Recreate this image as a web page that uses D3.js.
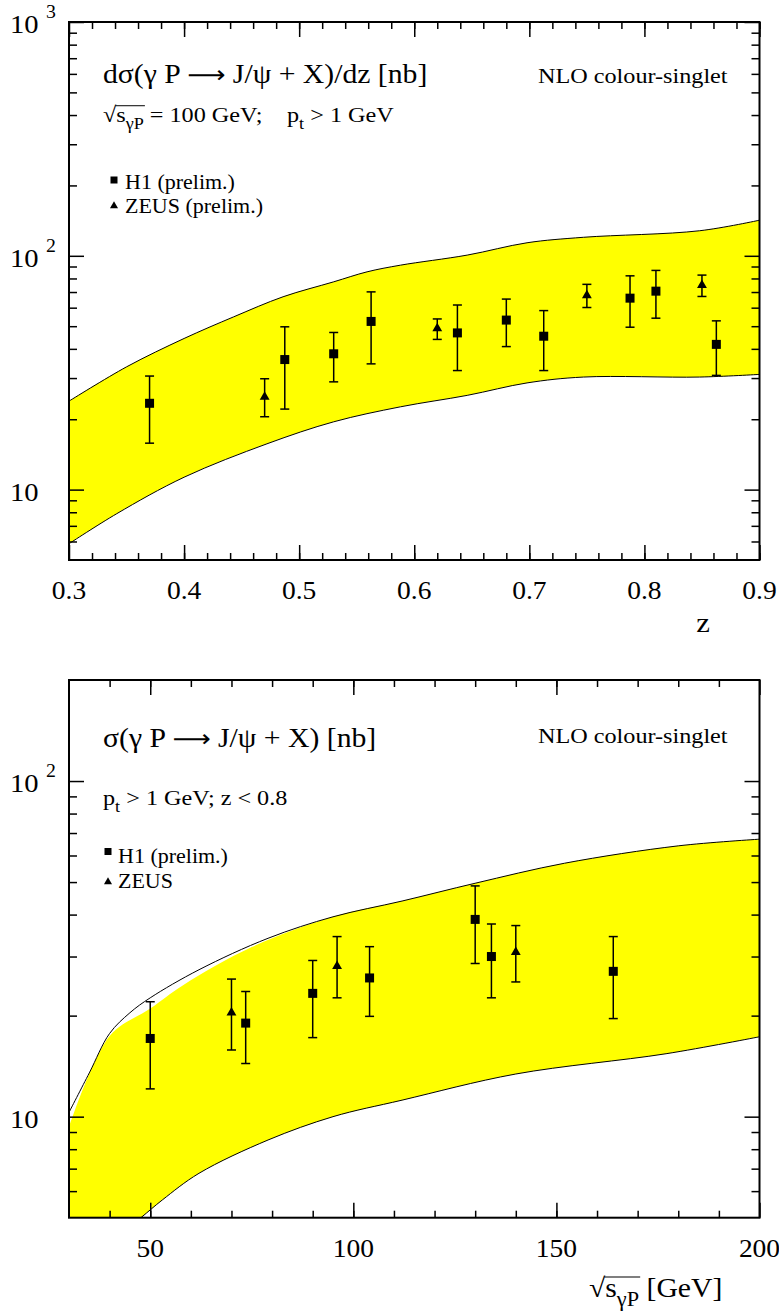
<!DOCTYPE html>
<html>
<head>
<meta charset="utf-8">
<script src="https://cdn.jsdelivr.net/npm/d3@7"></script>
<style>
  body { margin: 0; background: #fff; }
  svg text { font-family: "Liberation Serif", "Times New Roman", serif; fill: #000; white-space: pre; }
</style>
</head>
<body>
<div id="wrapper"></div>
<script>
// ---- top panel: dsigma/dz versus z ----
const zTicks = [0.3, 0.4, 0.5, 0.6, 0.7, 0.8, 0.9]
const dzYLabels = [10, 100, 1000]

// NLO colour-singlet band [z, nb]
const dzBandUpper = [[0.30, 23.9], [0.35, 33.5], [0.40, 44.3], [0.443, 54.8], [0.486, 66.8], [0.53, 77.4],
  [0.559, 85.4], [0.588, 91.2], [0.646, 100.7], [0.698, 113.7], [0.747, 120], [0.848, 128], [0.90, 142]]
const dzBandLower = [[0.30, 5.87], [0.3415, 7.89], [0.40, 11.3], [0.472, 15.7], [0.53, 19.5], [0.588, 22.6],
  [0.646, 25.3], [0.698, 28.6], [0.747, 30.3], [0.848, 30.3], [0.90, 31.1]]

const h1Z = [0.37, 0.4875, 0.53, 0.5625, 0.6375, 0.68, 0.7125, 0.7875, 0.81, 0.8625]
const h1Dz = [23.4, 36.0, 38.1, 52.4, 46.8, 53.1, 45.3, 65.9, 70.6, 41.8]
const h1DzHi = [30.6, 49.7, 47.0, 70.1, 61.6, 65.3, 58.3, 82.1, 86.6, 52.7]
const h1DzLo = [15.8, 22.1, 28.9, 34.5, 32.3, 40.9, 32.3, 49.5, 54.1, 30.8]

const zeusZ = [0.47, 0.62, 0.75, 0.85]
const zeusDz = [24.9, 48.9, 67.7, 74.9]
const zeusDzHi = [29.8, 53.7, 75.5, 82.7]
const zeusDzLo = [20.5, 43.9, 60.1, 67.0]

// ---- bottom panel: sigma versus sqrt(s) ----
const wTicks = [50, 100, 150, 200]
const sigYLabels = [10, 100]

const sigBandUpper = [[30, 10.3], [35, 13.5], [40, 17.7], [45, 20.4], [50, 22.6], [62, 27.4], [79, 34.0],
  [95, 39.4], [112, 43.9], [130, 49.6], [152, 56.9], [180, 64.1], [200, 67.1]]
const sigBandUpperFill = [[30, 9.3], [40, 17.4], [50, 21.0], [58, 24.6], [75, 32.0], [95, 39.4],
  [112, 43.9], [130, 49.6], [152, 56.9], [180, 64.1], [200, 67.1]]
const sigBandLower = [[30, 3.4], [40, 4.2], [47.7, 5.0], [53, 5.65], [62, 6.78], [79, 8.52], [95, 10.0],
  [112, 11.2], [140, 13.4], [177, 15.4], [200, 17.3]]

const h1W = [50, 73.5, 90, 104, 130, 134, 164]
const h1Sig = [17.1, 19.0, 23.3, 25.9, 38.7, 30.0, 27.1]
const h1SigHi = [22.0, 23.6, 29.2, 32.1, 48.7, 37.5, 34.4]
const h1SigLo = [12.1, 14.4, 17.2, 19.9, 28.6, 22.6, 19.6]

const zeusW = [70, 96, 140]
const zeusSig = [20.4, 28.1, 30.9]
const zeusSigHi = [25.7, 34.4, 37.1]
const zeusSigLo = [15.8, 22.6, 25.2]

// the original lettering is a bit wider than Liberation Serif
const stretch = 1.1

const svg = d3.select("#wrapper")
  .append("svg")
    .attr("width", 779)
    .attr("height", 1316)

const zip = (xs, v, hi, lo) => xs.map((x, i) => ({x, v: v[i], hi: hi[i], lo: lo[i]}))

function minorLog(domain) {
  const out = []
  for (let e = -1; e < 4; e++) {
    for (let m = 2; m < 10; m++) {
      const v = m * Math.pow(10, e)
      if (v > domain[0] && v < domain[1]) out.push(v)
    }
  }
  return out
}

// text with sub scripts, parts = [[text, "sub"|"arrow"|null], ...]
function rich(g, x, y, size, parts, anchor) {
  const t = g.append("g")
    .attr("transform", `translate(${x},${y}) scale(${stretch},1)`)
    .append("text")
      .attr("text-anchor", anchor || "start")
      .style("font-size", size + "px")
  let shift = 0
  parts.forEach(([s, kind]) => {
    const target = kind == "sub" ? size * 0.33 : 0
    const ts = t.append("tspan")
      .attr("dy", target - shift)
      .text(s)
    if (kind == "sub") ts.style("font-size", size * 0.75 + "px")
    if (kind == "arrow") ts.style("font-family", "'DejaVu Sans'").style("font-size", size * 0.9 + "px")
    shift = target
  })
  return t
}

// sqrt(s_gammaP) with a bar over it
function sqrtS(g, x, y, size, after) {
  const t = rich(g, x, y, size, [["√s", null], ["γP", "sub"], [after, null]])
  const n = t.node()
  const x1 = n.getEndPositionOfChar(0).x
  const x2 = n.getEndPositionOfChar(3).x
  d3.select(n.parentNode).append("line")
    .attr("x1", x1 - 0.8)
    .attr("x2", x2 + 1)
    .attr("y1", -size * 0.74)
    .attr("y2", -size * 0.74)
    .attr("stroke", "#000")
    .attr("stroke-width", 1)
  return t
}

function drawPanel(p) {
  const x = d3.scaleLinear().domain(p.xDomain).range([p.left, p.right])
  const y = d3.scaleLog().domain(p.yDomain).range([p.bottom, p.top])
  const g = svg.append("g")

  g.append("clipPath")
    .attr("id", p.id)
    .append("rect")
      .attr("x", p.left)
      .attr("y", p.top)
      .attr("width", p.right - p.left)
      .attr("height", p.bottom - p.top)

  const plot = g.append("g").attr("clip-path", `url(#${p.id})`)
  const line = d3.line()
    .x(d => x(d[0]))
    .y(d => y(d[1]))
    .curve(d3.curveCatmullRom.alpha(0.5))

  // band
  plot.append("path")
    .attr("d", line(p.fillUpper) + line(p.lower.slice().reverse()).replace(/^M/, "L") + "Z")
    .attr("fill", "#ffff00")
  ;[p.upper, p.lower].forEach(c => {
    plot.append("path")
      .attr("d", line(c))
      .attr("fill", "none")
      .attr("stroke", "#000")
      .attr("stroke-width", 1)
  })

  // ticks on all four sides
  const ticks = (axis, transform, values, size) => {
    g.append("g")
      .attr("transform", transform)
      .call(axis.tickValues(values).tickSize(size).tickFormat(""))
      .call(s => s.select(".domain").remove())
      .call(s => s.selectAll("line").attr("stroke-width", 1.5))
  }
  ticks(d3.axisBottom(x), `translate(0,${p.bottom})`, p.xMajor, -15)
  ticks(d3.axisBottom(x), `translate(0,${p.bottom})`, p.xMinor, -7)
  ticks(d3.axisTop(x), `translate(0,${p.top})`, p.xMajor, -15)
  ticks(d3.axisTop(x), `translate(0,${p.top})`, p.xMinor, -7)
  const yMajor = p.yLabels
  const yMinor = minorLog(p.yDomain)
  ticks(d3.axisLeft(y), `translate(${p.left},0)`, yMajor, -15)
  ticks(d3.axisLeft(y), `translate(${p.left},0)`, yMinor, -8)
  ticks(d3.axisRight(y), `translate(${p.right},0)`, yMajor, -15)
  ticks(d3.axisRight(y), `translate(${p.right},0)`, yMinor, -8)

  g.append("rect")
    .attr("x", p.left)
    .attr("y", p.top)
    .attr("width", p.right - p.left)
    .attr("height", p.bottom - p.top)
    .attr("fill", "none")
    .attr("stroke", "#000")
    .attr("stroke-width", 2)

  // tick labels
  p.xMajor.forEach(v => {
    rich(g, x(v), p.bottom + 39, 25, [[p.xFormat(v), null]], "middle")
  })

  p.yLabels.forEach(v => {
    const e = Math.round(Math.log10(v))
    rich(g, 10, y(v) + 11, 26, [["10", null]])
    if (e > 1) rich(g, 46, y(v) - 4, 18, [[String(e), null]])
  })

  // data points
  const drawPoints = (data, marker) => {
    const pts = g.append("g")
    data.forEach(d => {
      const cx = x(d.x)
      pts.append("line")
        .attr("x1", cx).attr("x2", cx)
        .attr("y1", y(d.hi)).attr("y2", y(d.lo))
        .attr("stroke", "#000").attr("stroke-width", 1.5)
      ;[d.hi, d.lo].forEach(c => {
        pts.append("line")
          .attr("x1", cx - 4.5).attr("x2", cx + 4.5)
          .attr("y1", y(c)).attr("y2", y(c))
          .attr("stroke", "#000").attr("stroke-width", 1.5)
      })
      if (marker == "square") {
        pts.append("rect")
          .attr("x", cx - 4.5).attr("y", y(d.v) - 4.5)
          .attr("width", 9).attr("height", 9)
      } else {
        pts.append("path")
          .attr("d", d3.symbol(d3.symbolTriangle, 42)())
          .attr("transform", `translate(${cx},${y(d.v)})`)
      }
    })
  }
  drawPoints(p.h1, "square")
  drawPoints(p.zeus, "triangle")

  return g
}

// top panel
const topPanel = drawPanel({
  id: "clipTop",
  left: 69, right: 759.5, top: 22, bottom: 560,
  xDomain: [0.3, 0.9], yDomain: [5, 1000],
  xMajor: zTicks, xMinor: d3.range(0.32, 0.9, 0.02),
  xFormat: d3.format(".1f"),
  yLabels: dzYLabels,
  upper: dzBandUpper, fillUpper: dzBandUpper, lower: dzBandLower,
  h1: zip(h1Z, h1Dz, h1DzHi, h1DzLo),
  zeus: zip(zeusZ, zeusDz, zeusDzHi, zeusDzLo)
})

rich(topPanel, 103, 83, 27, [["dσ(γ P ", null], ["⟶", "arrow"], [" J/ψ + X)/dz [nb]", null]])
rich(topPanel, 538, 83, 22, [["NLO colour-singlet", null]])
sqrtS(topPanel, 103, 122, 22, " = 100 GeV;")
rich(topPanel, 287, 122, 22, [["p", null], ["t", "sub"], [" > 1 GeV", null]])

topPanel.append("rect").attr("x", 110.5).attr("y", 176.5).attr("width", 7).attr("height", 7)
rich(topPanel, 125, 189, 20, [["H1 (prelim.)", null]])
topPanel.append("path")
  .attr("d", d3.symbol(d3.symbolTriangle, 28)())
  .attr("transform", "translate(114,206)")
rich(topPanel, 125, 213, 20, [["ZEUS (prelim.)", null]])

rich(topPanel, 703, 632, 28, [["z", null]], "middle")

// bottom panel
const bottomPanel = drawPanel({
  id: "clipBottom",
  left: 69, right: 759.5, top: 680, bottom: 1217.7,
  xDomain: [30, 200], yDomain: [5, 200],
  xMajor: wTicks, xMinor: d3.range(40, 200, 10),
  xFormat: d3.format("d"),
  yLabels: sigYLabels,
  upper: sigBandUpper, fillUpper: sigBandUpperFill, lower: sigBandLower,
  h1: zip(h1W, h1Sig, h1SigHi, h1SigLo),
  zeus: zip(zeusW, zeusSig, zeusSigHi, zeusSigLo)
})

rich(bottomPanel, 103, 747, 27, [["σ(γ P ", null], ["⟶", "arrow"], [" J/ψ + X) [nb]", null]])
rich(bottomPanel, 538, 743, 22, [["NLO colour-singlet", null]])
rich(bottomPanel, 103, 805, 22, [["p", null], ["t", "sub"], [" > 1 GeV; z < 0.8", null]])

bottomPanel.append("rect").attr("x", 104.5).attr("y", 848).attr("width", 7).attr("height", 7)
rich(bottomPanel, 118, 863, 20, [["H1 (prelim.)", null]])
bottomPanel.append("path")
  .attr("d", d3.symbol(d3.symbolTriangle, 28)())
  .attr("transform", "translate(108,882)")
rich(bottomPanel, 118, 888, 20, [["ZEUS", null]])

sqrtS(bottomPanel, 589, 1297, 27, " [GeV]")
</script>
</body>
</html>
